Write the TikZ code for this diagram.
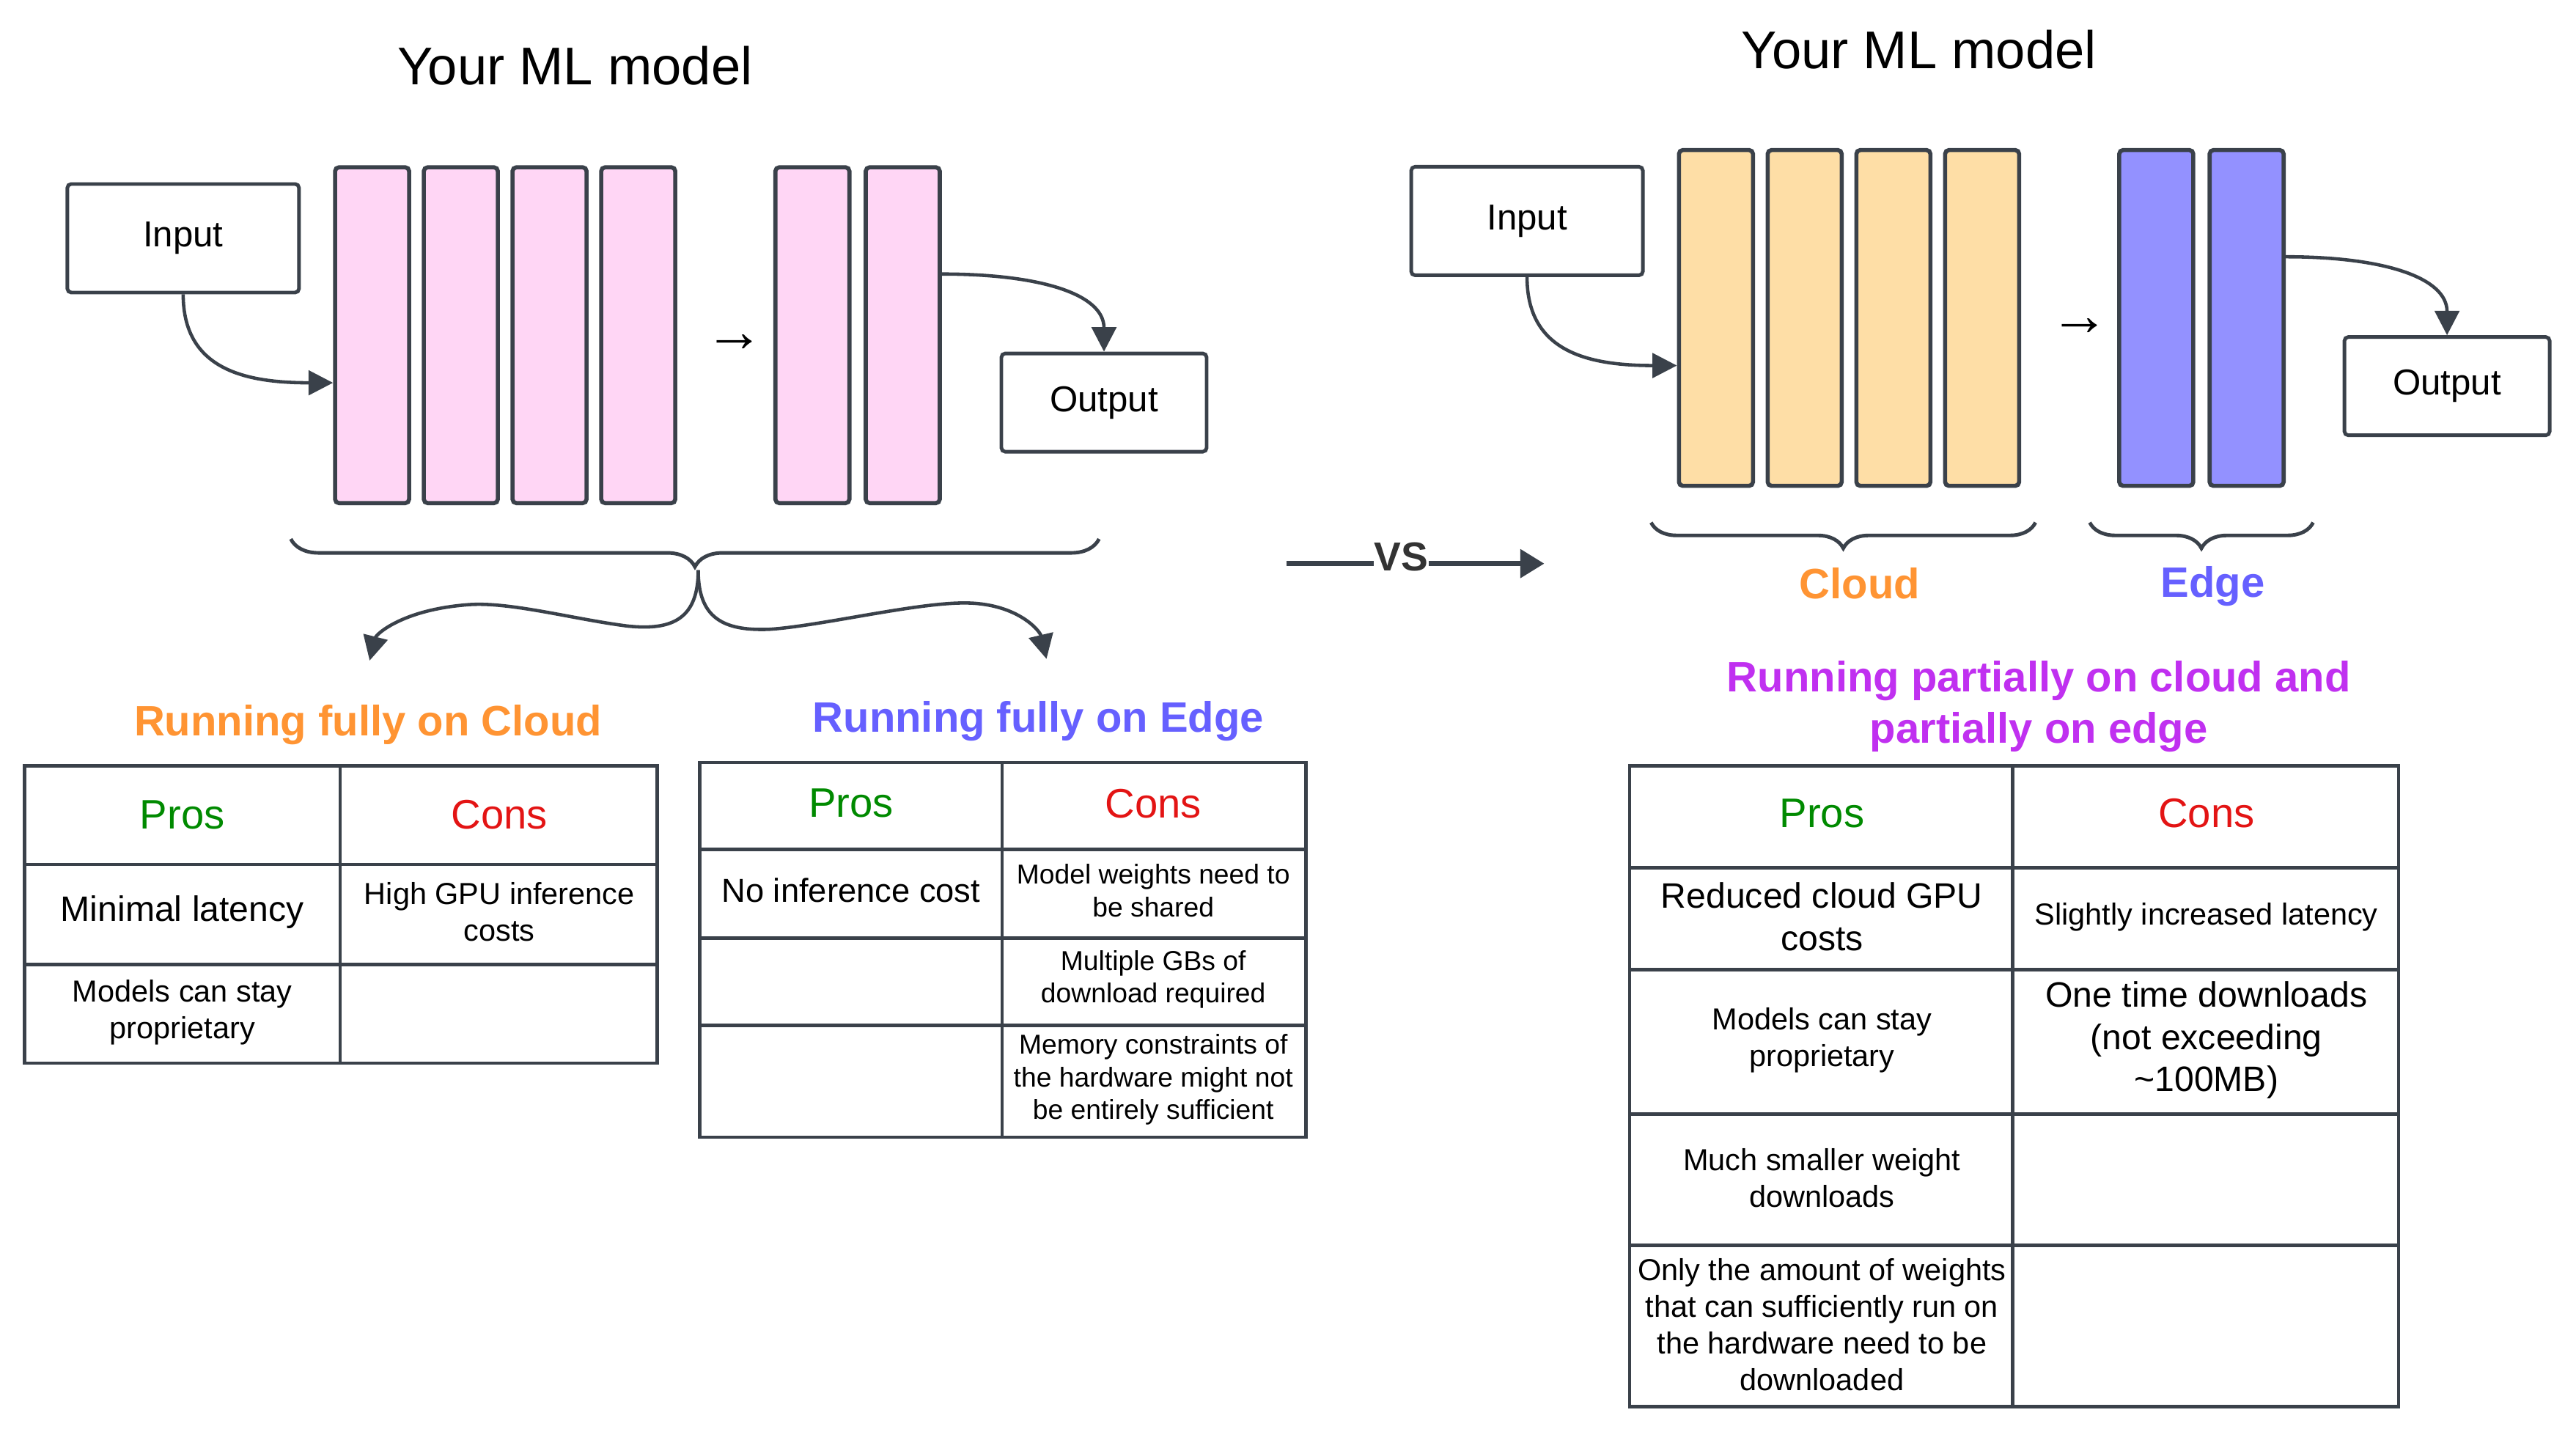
\documentclass[tikz,border=0pt]{standalone}
\usepackage{fontspec}
\setmainfont{Liberation Sans}
\usetikzlibrary{arrows.meta,calc,decorations.pathreplacing}

\definecolor{linegray}{HTML}{3A414A}
\definecolor{layerpink}{HTML}{FFD6F5}
\definecolor{layerorange}{HTML}{FEDEA6}
\definecolor{layerblue}{HTML}{9391FF}
\definecolor{cloudorange}{HTML}{FF9433}
\definecolor{edgeblue}{HTML}{6660FF}
\definecolor{mixpurple}{HTML}{C030F0}
\definecolor{prosgreen}{HTML}{008A00}
\definecolor{consred}{HTML}{E31414}

\begin{document}
\begin{tikzpicture}[x=0.2241mm, y=-0.2241mm,
    iobox/.style={draw=linegray, line width=1.4pt, rounded corners=1.5pt, fill=white,
        minimum width=31.6mm, minimum height=14.8mm, font=\fontsize{14}{17}\selectfont},
    layerbox/.style={draw=linegray, line width=1.6pt, rounded corners=1.5pt,
        minimum width=10.1mm, minimum height=45.8mm, inner sep=0pt},
    link/.style={draw=linegray, line width=1.3pt, -{Triangle[length=9.5pt,width=9.5pt]}},
    curly/.style={draw=linegray, line width=1.4pt, decorate, decoration={brace, mirror, amplitude=#1}},
    tline/.style={draw=linegray, line width=1.3pt},
    title/.style={font=\fontsize{20.6}{24.7}\selectfont},
    head/.style={font=\bfseries\fontsize{16.5}{19.8}\selectfont, align=center},
    pro/.style={text=prosgreen, font=\fontsize{16}{19}\selectfont},
    con/.style={text=consred, font=\fontsize{16}{19}\selectfont},
    cellL/.style={align=center, font=\fontsize{13.7}{16.4}\selectfont},
    cellM/.style={align=center, font=\fontsize{11.8}{14.2}\selectfont},
    cellS/.style={align=center, font=\fontsize{10.6}{12.7}\selectfont}]
    \useasboundingbox (0,0) rectangle (1568,883);

    % left: whole model in one place
    \node[title] (ltitle) at (350,40) {Your ML model};
    \node[iobox] (linput) at (111.5,145) {Input};
    \node[iobox, minimum width=28mm, minimum height=13.4mm] (loutput) at (672,245) {Output};
    \foreach \i/\x in {1/226.5,2/280.5,3/334.5,4/388.5,5/494.5,6/549.5}
        \node[layerbox, fill=layerpink] (ll\i) at (\x,204) {};
    \node[font=\fontsize{23}{25}\selectfont] (lstep) at (447,209) {→};

    \draw[link] (linput.south) .. controls +(0,45) and +(-55,0) .. ($(ll1.north west)!0.64!(ll1.south west)$);
    \draw[link] ($(ll6.north east)!0.32!(ll6.south east)$) .. controls +(60,0) and +(0,-35) .. (loutput.north);

    \draw[curly=10.8pt] (177,328) -- (669,328);
    \coordinate (lsplit) at (425,347);
    \coordinate (cloudend) at (225,402);
    \coordinate (edgeend) at (637,401);
    \draw[link] (lsplit) .. controls (425,376) and (410,384) .. (382,381)
        .. controls (350,377) and (310,366) .. (285,368)
        .. controls (245,371) and (229,386) .. (cloudend);
    \draw[link] (lsplit) .. controls (425,376) and (440,384) .. (468,383)
        .. controls (500,381) and (560,366) .. (590,367)
        .. controls (620,368) and (633,384) .. (edgeend);

    \node[head, text=cloudorange] (cloudhead) at (224,441) {Running fully on Cloud};
    \node[head, text=edgeblue] (edgehead) at (632,439) {Running fully on Edge};

    \draw[tline] (15,466) rectangle (400,647) (207,466) -- (207,647);
    \foreach \y in {526,587} \draw[tline] (15,\y) -- (400,\y);
    \node[pro] (cpros) at (111,496) {Pros};
    \node[con] (ccons) at (304,496) {Cons};
    \node[cellL] (cp1) at (111,555) {Minimal latency};
    \node[cellM] (cc1) at (304,555) {High GPU inference\\costs};
    \node[cellM] (cp2) at (111,616) {Models can stay\\proprietary};

    \draw[tline] (426,464) rectangle (795,692) (610,464) -- (610,692);
    \foreach \y in {517,571,624} \draw[tline] (426,\y) -- (795,\y);
    \node[pro] (epros) at (518,489) {Pros};
    \node[con] (econs) at (702,489) {Cons};
    \node[cellL, font=\fontsize{12.9}{15.5}\selectfont] (ep1) at (518,542) {No inference cost};
    \node[cellS] (ec1) at (702,542) {Model weights need to\\be shared};
    \node[cellS] (ec2) at (702,596) {Multiple GBs of\\download required};
    \node[cellS] (ec3) at (702,657) {Memory constraints of\\the hardware might not\\be entirely sufficient};

    \coordinate (vsfrom) at (783,343);
    \coordinate (vsto) at (940,343);
    \node[inner sep=0pt, text=black!80, font=\bfseries\fontsize{15.7}{18}\selectfont] (vs) at (853,339) {VS};
    \draw[linegray, line width=2pt] (vsfrom) -- (vsfrom -| vs.west);
    \draw[linegray, line width=2pt, -{Triangle[length=9.3pt,width=10.8pt]}] (vsfrom -| vs.east) -- (vsto);

    % right: split between cloud and edge
    \node[title] (rtitle) at (1168,30) {Your ML model};
    \node[iobox] (rinput) at (929.5,134.5) {Input};
    \node[iobox, minimum width=28mm, minimum height=13.4mm] (routput) at (1489.5,235) {Output};
    \foreach \i/\x in {1/1044.5,2/1098.5,3/1152.5,4/1206.5}
        \node[layerbox, fill=layerorange] (rl\i) at (\x,193.5) {};
    \foreach \i/\x in {5/1312.5,6/1367.5}
        \node[layerbox, fill=layerblue] (rl\i) at (\x,193.5) {};
    \node[font=\fontsize{23}{25}\selectfont] (rstep) at (1266,199) {→};

    \draw[link] (rinput.south) .. controls +(0,45) and +(-55,0) .. ($(rl1.north west)!0.64!(rl1.south west)$);
    \draw[link] ($(rl6.north east)!0.32!(rl6.south east)$) .. controls +(60,0) and +(0,-35) .. (routput.north);

    \draw[curly=10pt] (1005,318) -- (1239,318);
    \draw[curly=10pt] (1272,318) -- (1408,318);
    \node[head, text=cloudorange] (cloudlbl) at (1132,355) {Cloud};
    \node[head, text=edgeblue] (edgelbl) at (1347,357) {Edge};
    \node[head, text=mixpurple] (mixhead) at (1241,430) {Running partially on cloud and\\partially on edge};

    \draw[tline] (992,466) rectangle (1460,856) (1225,466) -- (1225,856);
    \foreach \y in {528,590,678,758} \draw[tline] (992,\y) -- (1460,\y);
    \node[pro] (mpros) at (1109,495) {Pros};
    \node[con] (mcons) at (1343,495) {Cons};
    \node[cellL] (mp1) at (1109,558) {Reduced cloud GPU\\costs};
    \node[cellM] (mc1) at (1343,558) {Slightly increased latency};
    \node[cellM] (mp2) at (1109,633) {Models can stay\\proprietary};
    \node[cellL] (mc2) at (1343,633) {One time downloads\\(not exceeding\\\textasciitilde100MB)};
    \node[cellM] (mp3) at (1109,717) {Much smaller weight\\downloads};
    \node[cellM] (mp4) at (1109,806) {Only the amount of weights\\that can sufficiently run on\\the hardware need to be\\downloaded};
\end{tikzpicture}
\end{document}
